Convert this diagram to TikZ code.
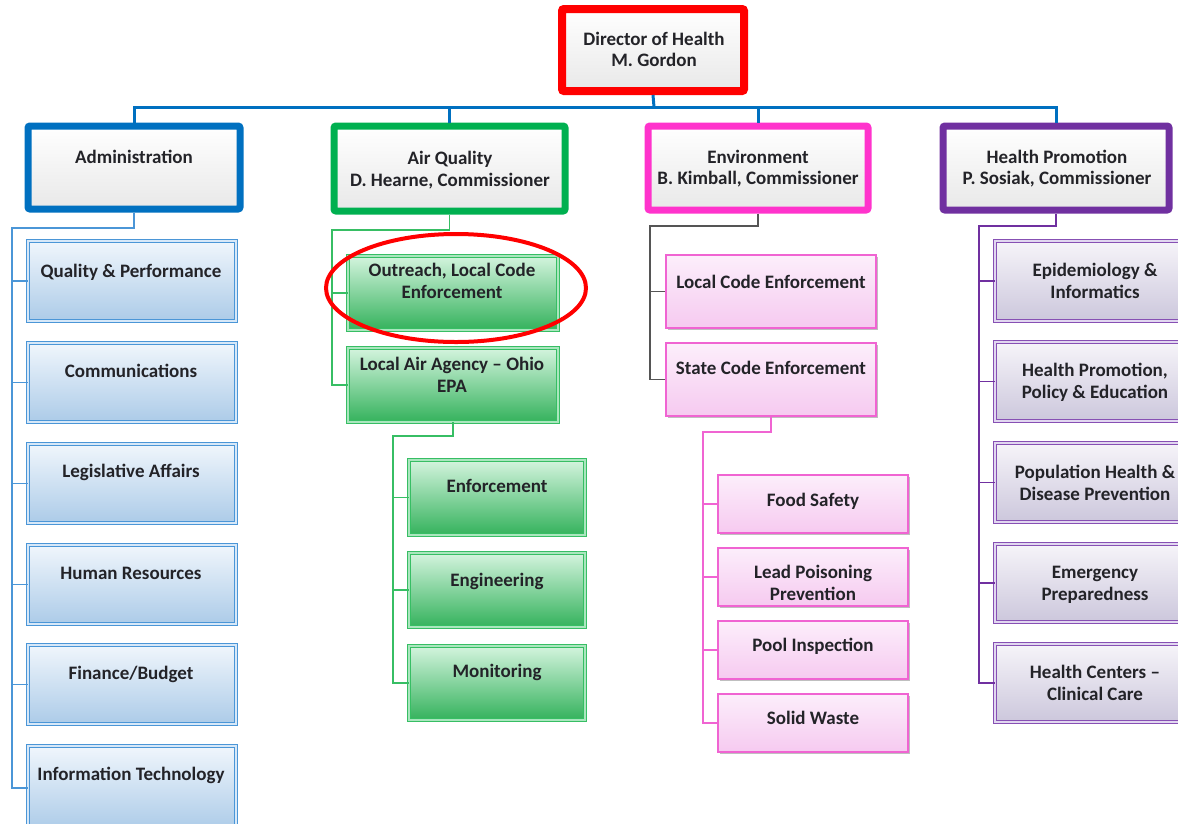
\documentclass[tikz,border=0pt]{standalone}
\usepackage{fontspec}
\setmainfont{Carlito}
\usetikzlibrary{shadows,calc}
\definecolor{cBlue}{RGB}{0,112,192}
\definecolor{cGreen}{RGB}{0,176,80}
\definecolor{cMag}{RGB}{255,51,204}
\definecolor{cPur}{RGB}{112,48,160}
\definecolor{cRed}{RGB}{255,0,0}
\definecolor{cTxt}{RGB}{35,35,40}
\definecolor{lBlue}{RGB}{75,150,215}
\definecolor{lGreen}{RGB}{55,190,100}
\definecolor{lPink}{RGB}{240,100,210}
\definecolor{lPur}{RGB}{135,80,180}
\definecolor{cGray}{RGB}{85,85,85}
\tikzset{
  txt/.style={font=\bfseries\fontsize{19}{21.5}\selectfont, text=cTxt, align=center, anchor=base, inner sep=0pt},
  shad/.style={drop shadow={shadow xshift=2pt, shadow yshift=-2pt, opacity=0.25, fill=black}},
  dept/.style={draw=#1, line width=7pt, rounded corners=2pt, top color=white, bottom color={rgb,255:red,232;green,232;blue,232}, shad},
  dirbox/.style={draw=cRed, line width=8pt, rounded corners=2pt, top color=white, bottom color={rgb,255:red,232;green,232;blue,232}, shad},
  kidA/.style={draw=lBlue, line width=0.9pt, double={rgb,255:red,215;green,232;blue,248}, double distance=1.6pt, top color={rgb,255:red,240;green,246;blue,252}, bottom color={rgb,255:red,172;green,203;blue,232}, shad},
  kidG/.style={draw=lGreen, line width=0.9pt, double={rgb,255:red,170;green,230;blue,190}, double distance=1.6pt, top color={rgb,255:red,212;green,244;blue,222}, bottom color={rgb,255:red,52;green,178;blue,92}, shad},
  kidP/.style={draw=lPink, line width=1.1pt, top color={rgb,255:red,252;green,238;blue,251}, bottom color={rgb,255:red,246;green,202;blue,240}, shad},
  kidV/.style={draw=lPur, line width=0.9pt, double={rgb,255:red,225;green,215;blue,240}, double distance=1.6pt, top color={rgb,255:red,246;green,244;blue,249}, bottom color={rgb,255:red,204;green,199;blue,220}, shad},
  busline/.style={draw=cBlue, line width=3pt},
  conA/.style={draw=lBlue, line width=1.8pt},
  conG/.style={draw=lGreen, line width=1.4pt},
  conK/.style={draw=cGray, line width=1.4pt},
  conP/.style={draw=lPink, line width=1.4pt},
  conV/.style={draw=cPur, line width=1.4pt},
}
% name, style, x1, y1, x2, y2
\newcommand\mkbox[6]{\node[#2, minimum width={#5-#3}, minimum height={#6-#4}, inner sep=0pt] (#1) at ({(#3+#5)/2},{(#4+#6)/2}) {};}
\begin{document}
\begin{tikzpicture}[x=1pt,y=-1pt]
\useasboundingbox (0,0) rectangle (1178,823);
\clip (0,0) rectangle (1178,823);

% ---------- connector junctions ----------
\coordinate (bus) at (654,107);
\coordinate (aT) at (12,228);
\coordinate (gT) at (332,230);
\coordinate (gT2) at (393,436);
\coordinate (eT) at (650,226);
\coordinate (eT2) at (703,432);
\coordinate (vT) at (979,226);

% top boxes
\mkbox{dir}{dirbox}{562}{9}{744}{91}
\mkbox{adm}{dept=cBlue}{28}{126}{240}{209}
\mkbox{air}{dept=cGreen}{334}{126}{565}{211}
\mkbox{env}{dept=cMag}{648}{126}{868}{210}
\mkbox{hp}{dept=cPur}{943}{126}{1169}{210}

\draw[busline] (dir.south) -- (bus);
\draw[busline] (adm.north) |- (bus) -| (hp.north);
\draw[busline] (air.north) -- (air.north |- bus);
\draw[busline] (env.north) -- (env.north |- bus);

% admin children
\mkbox{a1}{kidA}{28}{241}{236}{321}
\mkbox{a2}{kidA}{28}{343}{236}{422}
\mkbox{a3}{kidA}{28}{444}{236}{523}
\mkbox{a4}{kidA}{28}{545}{236}{624}
\mkbox{a5}{kidA}{28}{645}{236}{724}
\mkbox{a6}{kidA}{28}{746}{236}{830}
\draw[conA] (adm.south) |- (aT) -- (aT |- a6.west) -- (a6.west);
\foreach \k in {a1,a2,a3,a4,a5} \draw[conA] (aT) |- (\k.west);

% air children
\mkbox{g1}{kidG}{348}{256}{558}{330}
\mkbox{g2}{kidG}{348}{348}{558}{422}
\mkbox{g3}{kidG}{409}{460}{585}{535}
\mkbox{g4}{kidG}{409}{553}{585}{627}
\mkbox{g5}{kidG}{409}{646}{585}{720}
\draw[conG] (air.south) |- (gT) |- (g2.west);
\draw[conG] (gT) |- (g1.west);
\draw[conG] (g2.south) |- (gT2) |- (g5.west);
\draw[conG] (gT2) |- (g3.west);
\draw[conG] (gT2) |- (g4.west);

% environment children
\mkbox{e1}{kidP}{666}{255}{876}{328}
\mkbox{e2}{kidP}{666}{343}{876}{416}
\mkbox{e3}{kidP}{718}{475}{908}{533}
\mkbox{e4}{kidP}{718}{548}{908}{606}
\mkbox{e5}{kidP}{718}{621}{908}{679}
\mkbox{e6}{kidP}{718}{694}{908}{752}
\draw[conK] (env.south) |- (eT) |- (e2.west);
\draw[conK] (eT) |- (e1.west);
\draw[conP] (e2.south) |- (eT2) |- (e6.west);
\foreach \k in {e3,e4,e5} \draw[conP] (eT2) |- (\k.west);

% health promotion children
\mkbox{v1}{kidV}{995}{241}{1196}{321}
\mkbox{v2}{kidV}{995}{342}{1196}{421}
\mkbox{v3}{kidV}{995}{443}{1196}{522}
\mkbox{v4}{kidV}{995}{544}{1196}{622}
\mkbox{v5}{kidV}{995}{644}{1196}{722}
\draw[conV] (hp.south) |- (vT) |- (v5.west);
\foreach \k in {v1,v2,v3,v4} \draw[conV] (vT) |- (\k.west);

% ---------- texts (y = baseline of last line) ----------
\node[txt] at (654,66.5) {Director of Health\\M. Gordon};
\node[txt] at (134,163) {Administration};
\node[txt] at (450,186) {Air Quality\\D. Hearne, Commissioner};
\node[txt] at (758,184.5) {Environment\\B. Kimball, Commissioner};
\node[txt] at (1057,184.5) {Health Promotion\\P. Sosiak, Commissioner};

\node[txt] at (131,277) {Quality \& Performance};
\node[txt] at (131,377) {Communications};
\node[txt] at (131,477) {Legislative Affairs};
\node[txt] at (131,579) {Human Resources};
\node[txt] at (131,679) {Finance/Budget};
\node[txt] at (131,780) {Information Technology};

\node[txt] at (452,298) {Outreach, Local Code\\Enforcement};
\node[txt] at (452,392) {Local Air Agency – Ohio\\EPA};
\node[txt] at (497,492) {Enforcement};
\node[txt] at (497,586) {Engineering};
\node[txt] at (497,677) {Monitoring};

\node[txt] at (771,288) {Local Code Enforcement};
\node[txt] at (771,374) {State Code Enforcement};
\node[txt] at (813,506) {Food Safety};
\node[txt] at (813,600) {Lead Poisoning\\Prevention};
\node[txt] at (813,651) {Pool Inspection};
\node[txt] at (813,724) {Solid Waste};

\node[txt] at (1095,298) {Epidemiology \&\\Informatics};
\node[txt] at (1095,398) {Health Promotion,\\Policy \& Education};
\node[txt] at (1095,500) {Population Health \&\\Disease Prevention};
\node[txt] at (1095,600) {Emergency\\Preparedness};
\node[txt] at (1095,700) {Health Centers –\\Clinical Care};

% highlight ellipse
\draw[draw=cRed, line width=4pt] (456,288) ellipse [x radius=130, y radius=54];
\end{tikzpicture}
\end{document}
